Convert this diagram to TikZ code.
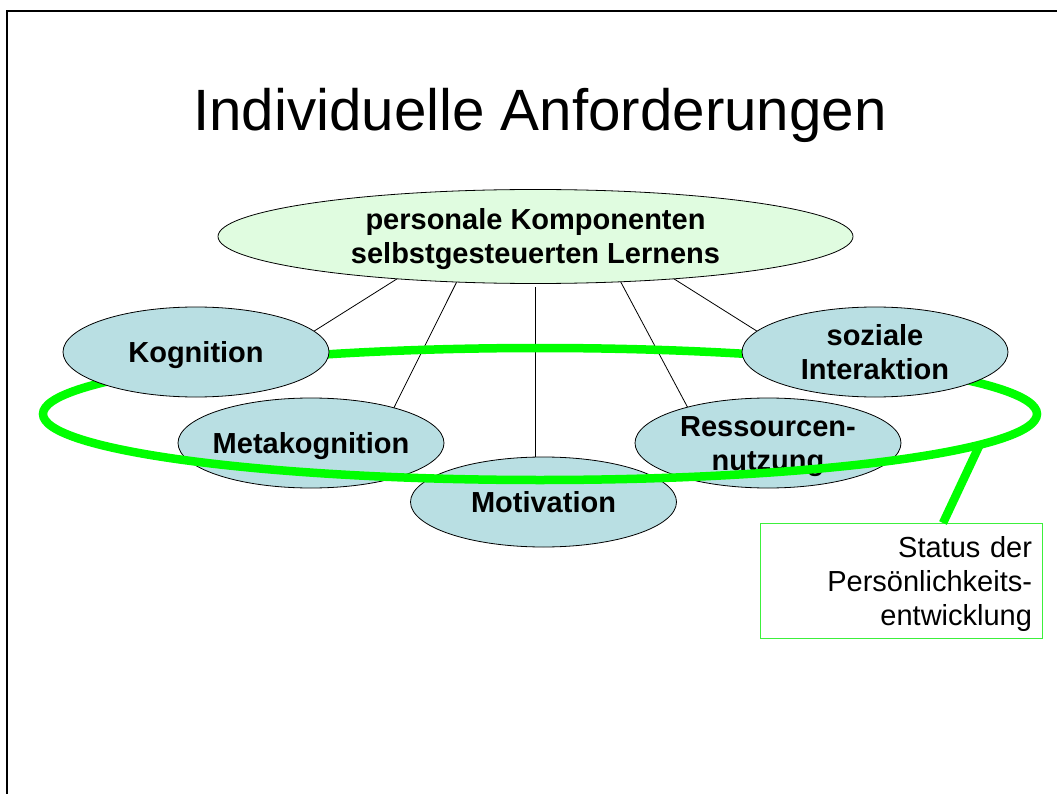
\documentclass[tikz,border=0pt]{standalone}
\usepackage{fontspec}
\setmainfont{Liberation Sans}
\usetikzlibrary{shapes.geometric}
\pgfdeclarelayer{bg}
\pgfsetlayers{bg,main}
\definecolor{nodeblue}{RGB}{185,223,227}
\definecolor{nodegreen}{RGB}{224,252,224}
\definecolor{ringgreen}{RGB}{0,255,0}
\definecolor{boxgreen}{RGB}{60,240,60}
\begin{document}
\begin{tikzpicture}[x=1pt,y=-1pt,
  comp/.style={ellipse, draw=black, line width=0.8pt, fill=nodeblue,
    minimum width=266pt, minimum height=90pt, inner xsep=-15pt, inner ysep=0pt, outer sep=0pt,
    align=center, font=\fontsize{29}{34}\selectfont\bfseries,
    text height=21pt, text depth=0pt},
  comptwo/.style={comp, text height=55pt, text depth=0pt},
  link/.style={draw=black, line width=0.8pt},
  ringstyle/.style={ellipse, draw=ringgreen, line width=8.5pt,
    minimum width=994pt, minimum height=132pt, inner sep=0pt, outer sep=0pt},
  calloutline/.style={draw=ringgreen, line width=8.5pt},
  statusbox/.style={draw=boxgreen, line width=1pt, fill=white,
    minimum width=282pt, minimum height=115pt, inner sep=0pt, outer sep=0pt,
    text width=262pt, align=right, font=\fontsize{29}{34}\selectfont,
    text height=21pt, text depth=68pt},
  frameline/.style={draw=black, line width=2.2pt}
]
\useasboundingbox (0,0) rectangle (1057,794);
\begin{pgfonlayer}{bg}
  \fill[white] (0,0) rectangle (1057,794);
\end{pgfonlayer}
\draw[frameline] (1057,11) -| (7,794);
\node[anchor=base, font=\fontsize{58.3}{70}\selectfont] (title) at (540,131) {Individuelle Anforderungen};

\node[comptwo, fill=nodegreen, minimum width=635pt, minimum height=94pt] (top) at (535.5,236.5)
  {personale Komponenten\\selbstgesteuerten Lernens};

\node[comp] (meta) at (311,443) {Metakognition};
\node[comptwo] (ress) at (768,443) {Ressourcen-\\nutzung};
\node[comp] (mot) at (543.5,502) {Motivation};

\node[ringstyle] (ring) at (540,414) {};

\node[comp] (kog) at (196,352) {Kognition};
\node[comptwo] (soz) at (875,352) {soziale\\Interaktion};

\node[statusbox] (box) at (901,580.5) {Status der\\Persönlichkeits-\\entwicklung};
\draw[calloutline] (ring.356) -- ([xshift=42pt]box.north);

\begin{pgfonlayer}{bg}
  \draw[link] (top.197) -- (kog.10);
  \draw[link] (top.210) -- (meta.23);
  \draw[link] ([yshift=-4pt]top.south) -- (top.south |- mot.north);
  \draw[link] (top.332) -- (ress.156);
  \draw[link] (top.343) -- (soz.170);
\end{pgfonlayer}
\end{tikzpicture}
\end{document}
